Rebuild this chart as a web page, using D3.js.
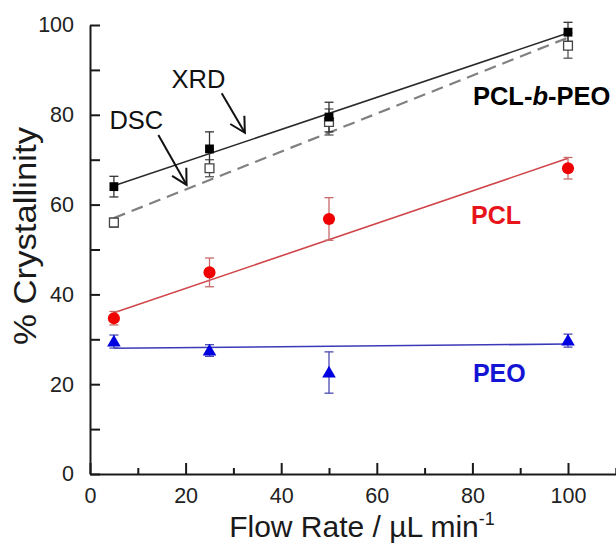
<!DOCTYPE html>
<html>
<head>
<meta charset="utf-8">
<script src="https://cdn.jsdelivr.net/npm/d3@7"></script>
<style>
  html, body { margin: 0; padding: 0; background: #fff; }
  svg { display: block; font-family: "Liberation Sans", Arial, sans-serif; }
</style>
</head>
<body>
<svg id="chart" width="616" height="544"></svg>
<script>
// ---- data ----
const flowRates = [5, 25, 50, 100];

const xrdValues = [64.0, 72.4, 79.5, 98.4];
const xrdErrors = [2.3, 3.8, 3.3, 2.2];
const xrdFit = [64.2, 98.2];           // fit line at x = 5 and x = 100

const dscValues = [56.0, 68.1, 78.4, 95.4];
const dscErrors = [1.0, 1.9, 2.9, 2.8];
const dscFit = [57.0, 97.2];

const pclValues = [34.7, 44.9, 56.8, 68.1];
const pclErrors = [1.5, 3.2, 4.75, 2.4];
const pclFit = [35.9, 70.3];

const peoValues = [29.5, 27.5, 22.6, 29.7];
const peoErrors = [1.45, 1.3, 4.6, 1.45];
const peoFit = [28.0, 28.95];

const fitX = [5, 100];

const xTicks = [0, 20, 40, 60, 80, 100];
const xMinorTicks = [10, 30, 50, 70, 90, 110];
const yTicks = [0, 20, 40, 60, 80, 100];
const yMinorTicks = [10, 30, 50, 70, 90];

// annotation positions in data units
const labelTexts = ["XRD", "DSC"];
const labelX = [22.7, 9.7];
const labelY = [85.9, 76.8];
const arrowFrom = [[27.55, 84.8], [14.3, 75.5]];
const arrowTo = [[32.4, 76.0], [20.2, 64.4]];

const seriesNames = ["PCL-b-PEO", "PCL", "PEO"];
const seriesLabelX = [80.1, 79.7, 80.1];
const seriesLabelY = [82.2, 55.7, 20.4];

// ---- layout ----
const svg = d3.select("#chart");
const x = d3.scaleLinear().domain([0, 110]).range([90, 615.8]);
const y = d3.scaleLinear().domain([0, 100]).range([474, 25]);

const axisColor = "#1a1a1a";

// X axis
const gx = svg.append("g").attr("transform", `translate(0,${y(0)})`);
gx.call(d3.axisBottom(x).tickValues(xTicks).tickSizeInner(-11).tickSizeOuter(0).tickFormat(d3.format("d")).tickPadding(14));
gx.select(".domain").attr("stroke", axisColor).attr("stroke-width", 2);
gx.selectAll(".tick line").attr("stroke", axisColor).attr("stroke-width", 2);
gx.selectAll(".tick text").attr("font-size", 21.5).attr("fill", "#222").attr("font-family", "Liberation Sans, Arial, sans-serif");
const gxm = svg.append("g").attr("transform", `translate(0,${y(0)})`);
gxm.call(d3.axisBottom(x).tickValues(xMinorTicks).tickSizeInner(-6).tickSizeOuter(0).tickFormat(""));
gxm.select(".domain").remove();
gxm.selectAll(".tick line").attr("stroke", axisColor).attr("stroke-width", 2);

// Y axis
const gy = svg.append("g").attr("transform", `translate(${x(0)},0)`);
gy.call(d3.axisLeft(y).tickValues(yTicks).tickSizeInner(-10).tickSizeOuter(0).tickFormat(d3.format("d")).tickPadding(16));
gy.select(".domain").attr("stroke", axisColor).attr("stroke-width", 2);
gy.selectAll(".tick line").attr("stroke", axisColor).attr("stroke-width", 2);
gy.selectAll(".tick text").attr("font-size", 21.5).attr("fill", "#222").attr("font-family", "Liberation Sans, Arial, sans-serif");
const gym = svg.append("g").attr("transform", `translate(${x(0)},0)`);
gym.call(d3.axisLeft(y).tickValues(yMinorTicks).tickSizeInner(-10).tickSizeOuter(0).tickFormat(""));
gym.select(".domain").remove();
gym.selectAll(".tick line").attr("stroke", axisColor).attr("stroke-width", 2);

// Axis titles
svg.append("text")
  .attr("x", 362).attr("y", 537)
  .attr("text-anchor", "middle")
  .attr("font-size", 30).attr("fill", "#1a1a1a")
  .text("Flow Rate / µL min")
  .append("tspan").attr("dy", -12).attr("font-size", 18).text("-1");

svg.append("text")
  .attr("transform", `translate(36,236) rotate(-90)`)
  .attr("text-anchor", "middle")
  .attr("font-size", 31).attr("fill", "#1a1a1a")
  .attr("textLength", 218).attr("lengthAdjust", "spacingAndGlyphs")
  .text("% Crystallinity");

// ---- fit lines ----
const line = d3.line().x(d => x(d[0])).y(d => y(d[1]));
function fitLine(vals, color, width, dash) {
  svg.append("path")
    .datum(fitX.map((fx, i) => [fx, vals[i]]))
    .attr("d", line)
    .attr("fill", "none")
    .attr("stroke", color)
    .attr("stroke-width", width)
    .attr("stroke-dasharray", dash || null);
}
fitLine(peoFit, "#3a3ab8", 1.6);
fitLine(pclFit, "#d0454a", 1.6);
fitLine(dscFit, "#808080", 2.2, "12,7");
fitLine(xrdFit, "#2a2a2a", 1.6);

// ---- error bars ----
function errorBars(vals, errs, color) {
  const g = svg.append("g").attr("stroke", color).attr("stroke-width", 1.3).attr("fill", "none");
  flowRates.forEach((fr, i) => {
    const cx = x(fr);
    const top = y(vals[i] + errs[i]);
    const bot = y(vals[i] - errs[i]);
    g.append("line").attr("x1", cx).attr("x2", cx).attr("y1", top).attr("y2", bot);
    g.append("line").attr("x1", cx - 4.5).attr("x2", cx + 4.5).attr("y1", top).attr("y2", top);
    g.append("line").attr("x1", cx - 4.5).attr("x2", cx + 4.5).attr("y1", bot).attr("y2", bot);
  });
}
errorBars(dscValues, dscErrors, "#555");
errorBars(xrdValues, xrdErrors, "#333");
errorBars(pclValues, pclErrors, "#c86a6a");
errorBars(peoValues, peoErrors, "#4a4ab0");

// ---- markers ----
const sq = d3.symbol().type(d3.symbolSquare).size(78);
const circ = d3.symbol().type(d3.symbolCircle).size(115);
const tri = d3.symbol().type(d3.symbolTriangle).size(80);

svg.append("g").selectAll("path").data(dscValues).join("path")
  .attr("d", sq)
  .attr("transform", (d, i) => `translate(${x(flowRates[i])},${y(d)})`)
  .attr("fill", "#fff").attr("stroke", "#444").attr("stroke-width", 1.3);

svg.append("g").selectAll("path").data(xrdValues).join("path")
  .attr("d", sq)
  .attr("transform", (d, i) => `translate(${x(flowRates[i])},${y(d)})`)
  .attr("fill", "#000");

svg.append("g").selectAll("path").data(pclValues).join("path")
  .attr("d", circ)
  .attr("transform", (d, i) => `translate(${x(flowRates[i])},${y(d)})`)
  .attr("fill", "#f00000");

svg.append("g").selectAll("path").data(peoValues).join("path")
  .attr("d", tri)
  .attr("transform", (d, i) => `translate(${x(flowRates[i])},${y(d) + 1})`)
  .attr("fill", "#0000e0");

// ---- annotations ----
labelTexts.forEach((t, i) => {
  svg.append("text")
    .attr("x", x(labelX[i])).attr("y", y(labelY[i]))
    .attr("text-anchor", "middle")
    .attr("font-size", 25.5).attr("fill", "#111")
    .text(t);
});

function arrow(from, to) {
  const x1 = x(from[0]), y1 = y(from[1]), x2 = x(to[0]), y2 = y(to[1]);
  const ang = Math.atan2(y2 - y1, x2 - x1);
  const hl = 17, ha = 0.5;
  const pts = [
    [x2 - hl * Math.cos(ang - ha), y2 - hl * Math.sin(ang - ha)],
    [x2, y2],
    [x2 - hl * Math.cos(ang + ha), y2 - hl * Math.sin(ang + ha)]
  ];
  svg.append("line").attr("x1", x1).attr("y1", y1).attr("x2", x2).attr("y2", y2)
    .attr("stroke", "#111").attr("stroke-width", 2);
  svg.append("path").attr("d", d3.line()(pts))
    .attr("fill", "none").attr("stroke", "#111").attr("stroke-width", 2);
}
arrowFrom.forEach((f, i) => arrow(f, arrowTo[i]));

// series labels
const lbl0 = svg.append("text")
  .attr("x", x(seriesLabelX[0])).attr("y", y(seriesLabelY[0]))
  .attr("font-size", 25.5).attr("font-weight", "bold").attr("fill", "#000");
lbl0.append("tspan").text("PCL-");
lbl0.append("tspan").attr("font-style", "italic").text("b");
lbl0.append("tspan").text("-PEO");

svg.append("text")
  .attr("x", x(seriesLabelX[1])).attr("y", y(seriesLabelY[1]))
  .attr("font-size", 25).attr("font-weight", "bold").attr("fill", "#e8141c")
  .text(seriesNames[1]);

svg.append("text")
  .attr("x", x(seriesLabelX[2])).attr("y", y(seriesLabelY[2]))
  .attr("font-size", 25).attr("font-weight", "bold").attr("fill", "#1414d4")
  .text(seriesNames[2]);
</script>
</body>
</html>
